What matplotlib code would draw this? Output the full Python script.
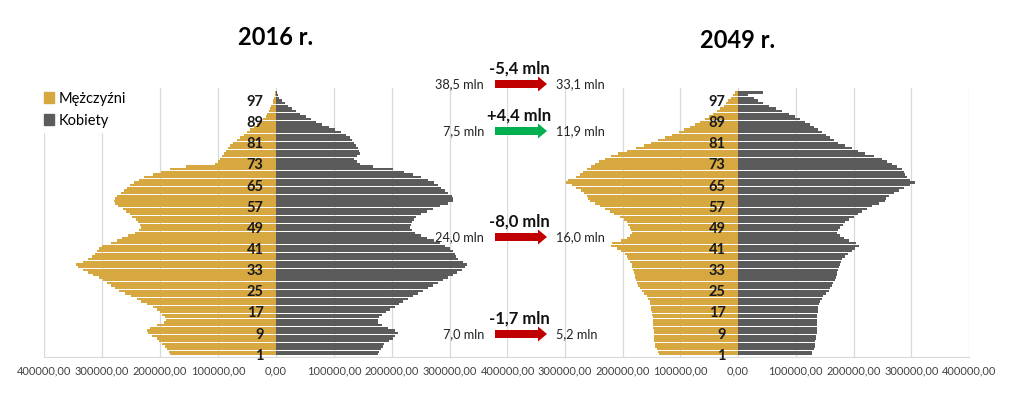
import matplotlib
matplotlib.use("Agg")
import matplotlib.pyplot as plt
from matplotlib.patches import Patch, FancyArrow

plt.rcParams["font.family"] = ["Lato", "DejaVu Sans"]

# age groups (1 .. 100+)
ages = list(range(1, 101))

# population in thousands
men_2016 = [183, 185, 188, 192, 197, 202, 206, 213, 220, 222,
            217, 205, 193, 190, 192, 196, 200, 206, 212, 222,
            232, 240, 250, 261, 270, 278, 285, 292, 298, 305,
            315, 325, 332, 342, 344, 333, 324, 318, 312, 308,
            305, 300, 285, 275, 265, 255, 243, 236, 232, 234,
            238, 242, 248, 252, 258, 264, 272, 278, 280, 278,
            274, 268, 262, 257, 251, 245, 237, 228, 212, 198,
            182, 155, 105, 100, 96, 93, 90, 87, 83, 80,
            75, 68, 62, 56, 50, 44, 38, 32, 27, 22,
            18, 15, 12, 10, 8, 6, 5, 3, 2, 2]
women_2016 = [176, 178, 181, 184, 187, 195, 202, 206, 210, 206,
              193, 182, 176, 175, 178, 183, 190, 197, 205, 212,
              219, 228, 236, 245, 254, 262, 270, 280, 288, 296,
              305, 312, 320, 326, 329, 322, 314, 311, 308, 305,
              300, 292, 282, 272, 260, 250, 240, 234, 231, 232,
              234, 238, 242, 250, 260, 270, 283, 296, 306, 305,
              303, 297, 291, 285, 280, 272, 262, 250, 236, 220,
              202, 167, 144, 140, 135, 140, 144, 143, 141, 138,
              135, 131, 127, 120, 112, 102, 92, 80, 69, 60,
              51, 42, 34, 27, 20, 15, 10, 6, 4, 2]
men_2049 = [137, 139, 141, 143, 144, 145, 145, 146, 146, 146,
            147, 147, 147, 148, 148, 149, 149, 150, 150, 152,
            153, 156, 158, 162, 167, 170, 173, 175, 176, 178,
            179, 180, 181, 183, 184, 187, 190, 193, 196, 202,
            210, 220, 219, 202, 193, 187, 184, 185, 187, 190,
            193, 198, 205, 214, 222, 230, 239, 248, 257, 259,
            262, 266, 271, 280, 288, 297, 294, 280, 274, 268,
            262, 255, 248, 240, 231, 220, 208, 192, 176, 163,
            150, 138, 127, 115, 103, 93, 83, 74, 66, 58,
            51, 44, 37, 31, 25, 21, 17, 12, 8, 5]
women_2049 = [128, 129, 131, 133, 134, 134, 135, 135, 136, 136,
              136, 136, 136, 136, 137, 137, 138, 138, 139, 140,
              142, 145, 148, 152, 157, 160, 162, 165, 168, 170,
              171, 172, 174, 175, 177, 178, 180, 185, 191, 197,
              203, 209, 205, 192, 183, 176, 171, 173, 177, 182,
              186, 193, 200, 207, 214, 224, 232, 245, 255, 257,
              261, 270, 278, 288, 298, 307, 298, 293, 290, 287,
              284, 275, 266, 258, 249, 235, 220, 208, 197, 185,
              174, 167, 160, 152, 145, 138, 131, 124, 116, 108,
              99, 88, 76, 65, 53, 44, 35, 27, 18, 44]

years = ["2016 r.", "2049 r."]
age_labels = [1, 9, 17, 25, 33, 41, 49, 57, 65, 73, 81, 89, 97]

# summary of changes between the two pyramids
changes = ["-5,4 mln", "+4,4 mln", "-8,0 mln", "-1,7 mln"]
before = ["38,5 mln", "7,5 mln", "24,0 mln", "7,0 mln"]
after = ["33,1 mln", "11,9 mln", "16,0 mln", "5,2 mln"]
arrow_colors = ["#C00000", "#00B050", "#C00000", "#C00000"]

MEN_COLOR = "#D6A83F"
WOMEN_COLOR = "#5B5B5B"
GRID_COLOR = "#D9D9D9"


def fmt_tick(v):
    return f"{abs(v):.2f}".replace(".", ",")


def draw_pyramid(ax, men, women, title, title_pad, skip_first_tick=False):
    men_vals = [-m * 1000 for m in men]
    women_vals = [w * 1000 for w in women]
    ax.barh(ages, men_vals, height=0.88, color=MEN_COLOR, zorder=2)
    ax.barh(ages, women_vals, height=0.88, color=WOMEN_COLOR, zorder=2)

    ax.set_xlim(-400000, 400000)
    ax.set_ylim(0, 101.8)
    ticks = list(range(-400000, 400001, 100000))
    labels = [fmt_tick(t) for t in ticks]
    if skip_first_tick:
        # shares its position with the last label of the left chart
        labels[0] = ""
    ax.set_xticks(ticks)
    ax.set_xticklabels(labels, fontsize=7.9, color="#404040")
    ax.tick_params(axis="x", length=0, pad=6)
    ax.set_yticks([])
    ax.grid(axis="x", color=GRID_COLOR, linewidth=0.9, zorder=0)
    ax.set_axisbelow(True)
    for side in ["top", "left", "right"]:
        ax.spines[side].set_visible(False)
    ax.spines["bottom"].set_color(GRID_COLOR)
    ax.patch.set_alpha(0)

    for a in age_labels:
        ax.annotate(str(a), xy=(0, a), xytext=(-9, -1), textcoords="offset points",
                    ha="right", va="center", fontsize=10.5, fontweight="bold",
                    color="#1a1a1a", zorder=5)
    ax.set_title(title, fontsize=17, fontweight="bold", pad=title_pad)


fig = plt.figure(figsize=(10.24, 3.94), dpi=100)
ax_left = fig.add_axes([44 / 1024, 0.094, 464 / 1024, 0.683])
ax_right = fig.add_axes([507 / 1024, 0.094, 462 / 1024, 0.683])
draw_pyramid(ax_left, men_2016, women_2016, years[0], 31)
draw_pyramid(ax_right, men_2049, women_2049, years[1], 29, skip_first_tick=True)

handles = [Patch(color=MEN_COLOR, label="Mężczyźni"),
           Patch(color=WOMEN_COLOR, label="Kobiety")]
fig.legend(handles=handles, loc="upper left", bbox_to_anchor=(32 / 1024, 1 - 80 / 394),
           frameon=True, facecolor="white", edgecolor="white", framealpha=1,
           fontsize=10.5, handlelength=0.7, handleheight=0.7, handletextpad=0.3,
           labelspacing=0.55, borderpad=0.3)

# overlay in pixel coordinates for the middle annotations
over = fig.add_axes([0, 0, 1, 1], zorder=10)
over.set_xlim(0, 1024)
over.set_ylim(394, 0)
over.axis("off")

rows_y = [84, 131, 237, 334]
for y, ch, b, a, c in zip(rows_y, changes, before, after, arrow_colors):
    over.text(519, y - 15, ch, ha="center", va="center", fontsize=12, fontweight="bold",
              color="#111111")
    over.text(484, y, b, ha="right", va="center", fontsize=9.2, color="#222222")
    over.text(556, y, a, ha="left", va="center", fontsize=9.2, color="#222222")
    over.add_patch(FancyArrow(495, y, 52, 0, width=8, head_width=15, head_length=9,
                              length_includes_head=True, color=c, linewidth=0))

fig.savefig("out.png", dpi=100)
